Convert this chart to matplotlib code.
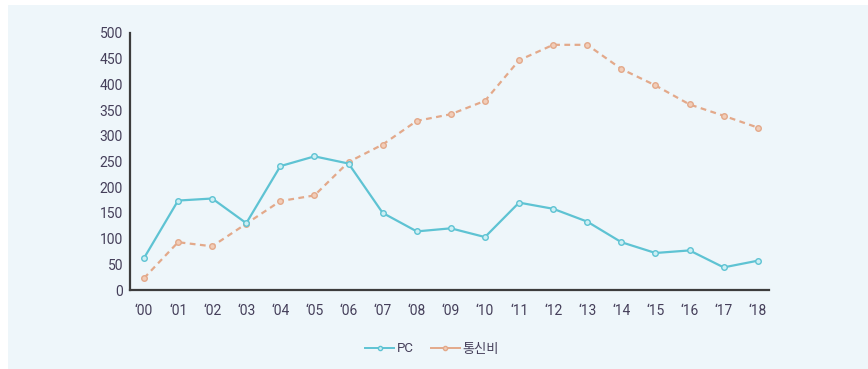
import matplotlib
matplotlib.use("Agg")
import matplotlib.pyplot as plt
from matplotlib.patches import Rectangle
from matplotlib.lines import Line2D
from matplotlib import font_manager

names = {f.name for f in font_manager.fontManager.ttflist}
base = 'Liberation Sans Narrow' if 'Liberation Sans Narrow' in names else 'Roboto'
plt.rcParams['font.family'] = [base, 'Noto Sans CJK KR', 'DejaVu Sans']

years = ["‘00", "‘01", "‘02", "‘03", "‘04", "‘05", "‘06", "‘07", "‘08", "‘09",
         "‘10", "‘11", "‘12", "‘13", "‘14", "‘15", "‘16", "‘17", "‘18"]
pc = [62, 174, 178, 130, 241, 260, 246, 150, 114, 120, 103, 170, 158, 133, 93, 72, 77, 44, 57]
telecom = [23, 93, 85, 129, 173, 184, 249, 283, 329, 342, 368, 447, 477, 477, 430, 398, 361, 339, 316]
yticks = [0, 50, 100, 150, 200, 250, 300, 350, 400, 450, 500]
series_names = ["PC", "통신비"]

pc_color = "#5EC3D3"
tel_color = "#E3A98A"
bg = "#EEF6FA"
txt = "#453F5A"

fig = plt.figure(figsize=(8.68, 3.69), dpi=100)
fig.patch.set_facecolor("white")
fig.patches.append(Rectangle((8 / 868, 0), 1, (369 - 5) / 369, transform=fig.transFigure,
                             facecolor=bg, edgecolor="none", zorder=-10))

ax = fig.add_axes([130 / 868, (369 - 290) / 369, (769 - 130) / 868, (290 - 33) / 369])
ax.set_facecolor("none")
ax.set_zorder(5)

x = list(range(len(years)))
ax.plot(x, pc, color=pc_color, lw=1.6, marker="o", ms=4.0, mfc="#CDEFF4", mec=pc_color, mew=1.0,
        label=series_names[0], zorder=3, clip_on=False)
ax.plot(x, telecom, color=tel_color, lw=1.6, ls=(0, (2.6, 2)), marker="o", ms=4.0, mfc="#F2CDB8",
        mec=tel_color, mew=1.0, label=series_names[1], zorder=2, clip_on=False)

ax.set_ylim(0, 500)
ax.set_xlim(-0.41, 18.33)
ax.set_yticks(yticks)
ax.set_yticklabels([str(v) for v in yticks])
ax.set_xticks(x)
ax.set_xticklabels(years)
ax.tick_params(axis="both", length=0, labelsize=10, colors=txt)
ax.tick_params(axis="y", pad=5)
ax.tick_params(axis="x", pad=10)

for s in ["top", "right"]:
    ax.spines[s].set_visible(False)
for s in ["left", "bottom"]:
    ax.spines[s].set_color("#3C3C3C")
    ax.spines[s].set_linewidth(1.6)

handles = [Line2D([], [], color=pc_color, lw=1.4, marker="o", ms=3.0, mfc="#CDEFF4", mec=pc_color),
           Line2D([], [], color=tel_color, lw=1.4, marker="o", ms=3.0, mfc="#F2CDB8", mec=tel_color)]
fig.legend(handles, series_names, loc="center", bbox_to_anchor=(432 / 868, 1 - 349 / 369), ncol=2,
           frameon=False, fontsize=9.5, handlelength=2.2, handletextpad=0.2, columnspacing=1.3,
           labelcolor=txt)

fig.savefig("out.png", dpi=100, facecolor=fig.get_facecolor())
